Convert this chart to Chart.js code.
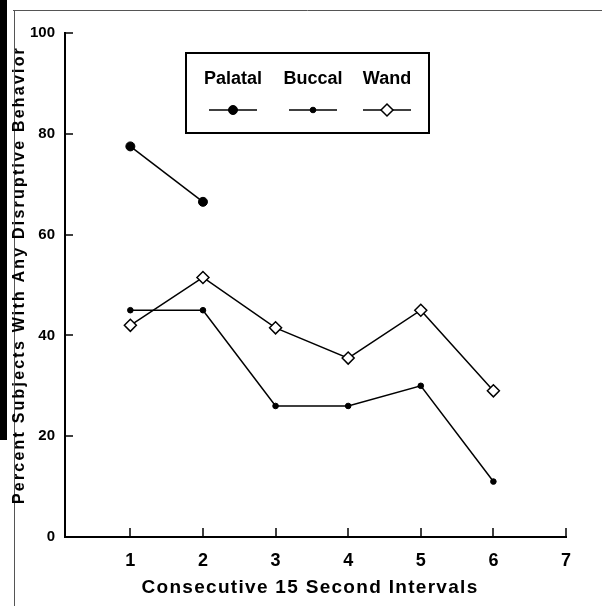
<!DOCTYPE html>
<html>
<head>
<meta charset="utf-8">
<script src="https://cdn.jsdelivr.net/npm/chart.js@4.4.1/dist/chart.umd.min.js"></script>
<style>
  body { margin: 0; background: #fff; }
  canvas { display: block; }
</style>
</head>
<body>
<canvas id="chart" width="602" height="606"></canvas>
<script>
// Data
const intervals = [1, 2, 3, 4, 5, 6];
const palatal = [77.5, 66.5, null, null, null, null];
const buccal = [45, 45, 26, 26, 30, 11];
const wand = [42, 51.5, 41.5, 35.5, 45, 29];
const xTicks = [1, 2, 3, 4, 5, 6, 7];
const yTicks = [0, 20, 40, 60, 80, 100];
const xTitle = 'Consecutive 15 Second Intervals';
const yTitle = 'Percent Subjects With Any Disruptive Behavior';

const FONT = '"Liberation Sans", Arial, sans-serif';
const toPoints = values => intervals.map((x, i) => ({ x: x, y: values[i] }));

// Inward tick marks on both axes
const innerTicks = {
    id: 'innerTicks',
    afterDraw(chart) {
        const ctx = chart.ctx;
        const x = chart.scales.x, y = chart.scales.y;
        ctx.save();
        ctx.strokeStyle = '#000';
        ctx.lineWidth = 1.5;
        xTicks.forEach(v => {
            const px = Math.round(x.getPixelForValue(v));
            ctx.beginPath();
            ctx.moveTo(px, y.bottom);
            ctx.lineTo(px, y.bottom - 9);
            ctx.stroke();
        });
        yTicks.forEach(v => {
            const py = Math.round(y.getPixelForValue(v));
            ctx.beginPath();
            ctx.moveTo(x.left, py);
            ctx.lineTo(x.left + 8, py);
            ctx.stroke();
        });
        ctx.restore();
    }
};

// Axis titles, spaced out like the scan
const axisTitles = {
    id: 'axisTitles',
    afterDraw(chart) {
        const ctx = chart.ctx;
        const x = chart.scales.x;
        ctx.save();
        ctx.fillStyle = '#000';
        ctx.textAlign = 'center';
        ctx.textBaseline = 'middle';
        ctx.letterSpacing = '1.3px';
        ctx.font = 'bold 19px ' + FONT;
        ctx.fillText(xTitle, 310, 588);
        ctx.translate(20, 275);
        ctx.rotate(-Math.PI / 2);
        ctx.letterSpacing = '2.2px';
        ctx.font = 'bold 16px ' + FONT;
        ctx.fillText(yTitle, 0, 0);
        ctx.restore();
    }
};

// Boxed legend: name above a line sample with the marker
const boxLegend = {
    id: 'boxLegend',
    afterDraw(chart) {
        const ctx = chart.ctx;
        ctx.save();
        ctx.strokeStyle = '#000';
        ctx.lineWidth = 2;
        ctx.strokeRect(186, 53, 243, 80);
        const centers = [233, 313, 387];
        ctx.font = 'bold 18px ' + FONT;
        ctx.textAlign = 'center';
        ctx.textBaseline = 'middle';
        ctx.fillStyle = '#000';
        chart.data.datasets.forEach((ds, i) => {
            const cx = centers[i];
            ctx.fillText(ds.label, cx, 79);
            ctx.lineWidth = 1.5;
            ctx.beginPath();
            ctx.moveTo(cx - 24, 110);
            ctx.lineTo(cx + 24, 110);
            ctx.stroke();
            ctx.fillStyle = ds.pointBackgroundColor;
            ctx.strokeStyle = '#000';
            ctx.lineWidth = ds.pointBorderWidth;
            Chart.helpers.drawPoint(ctx, {
                pointStyle: ds.pointStyle, radius: ds.pointRadius, rotation: 0,
                borderWidth: ds.pointBorderWidth
            }, cx, 110);
            ctx.fillStyle = '#000';
        });
        ctx.restore();
    }
};

// Scanned page edges
const pageEdge = {
    id: 'pageEdge',
    beforeDraw(chart) {
        const ctx = chart.ctx;
        ctx.save();
        ctx.fillStyle = '#fff';
        ctx.fillRect(0, 0, chart.width, chart.height);
        ctx.fillStyle = '#000';
        ctx.fillRect(0, 0, 7, 440);
        ctx.strokeStyle = '#555';
        ctx.lineWidth = 1;
        ctx.beginPath();
        ctx.moveTo(13, 10.5);
        ctx.lineTo(602, 10.5);
        ctx.moveTo(14.5, 10);
        ctx.lineTo(14.5, 606);
        ctx.stroke();
        ctx.restore();
    }
};

const pointDefaults = { borderColor: '#000', borderWidth: 1.5, pointBorderColor: '#000', tension: 0, spanGaps: false };

new Chart(document.getElementById('chart'), {
    type: 'line',
    data: {
        datasets: [
            { ...pointDefaults, label: 'Palatal', data: toPoints(palatal),
              pointStyle: 'circle', pointRadius: 4.5, pointBackgroundColor: '#000', pointBorderWidth: 1 },
            { ...pointDefaults, label: 'Buccal', data: toPoints(buccal),
              pointStyle: 'circle', pointRadius: 2.8, pointBackgroundColor: '#000', pointBorderWidth: 1 },
            { ...pointDefaults, label: 'Wand', data: toPoints(wand),
              pointStyle: 'rectRot', pointRadius: 6, pointBackgroundColor: '#fff', pointBorderWidth: 1.5 }
        ]
    },
    options: {
        responsive: false,
        animation: false,
        layout: { padding: { left: 0, right: 36, top: 33, bottom: 0 } },
        plugins: { legend: { display: false }, tooltip: { enabled: false } },
        scales: {
            x: {
                type: 'linear', min: 0.1, max: 7,
                afterBuildTicks: s => { s.ticks = xTicks.map(v => ({ value: v })); },
                afterFit: s => { s.height = 69; },
                grid: { display: false },
                border: { display: true, color: '#000', width: 2 },
                ticks: { color: '#000', padding: 5, font: { family: FONT, size: 18, weight: 'bold' } }
            },
            y: {
                min: 0, max: 100,
                afterBuildTicks: s => { s.ticks = yTicks.map(v => ({ value: v })); },
                afterFit: s => { s.width = 65; },
                grid: { display: false },
                border: { display: true, color: '#000', width: 2 },
                ticks: { color: '#000', padding: 2, font: { family: FONT, size: 15, weight: 'bold' } }
            }
        }
    },
    plugins: [pageEdge, innerTicks, axisTitles, boxLegend]
});
</script>
</body>
</html>
